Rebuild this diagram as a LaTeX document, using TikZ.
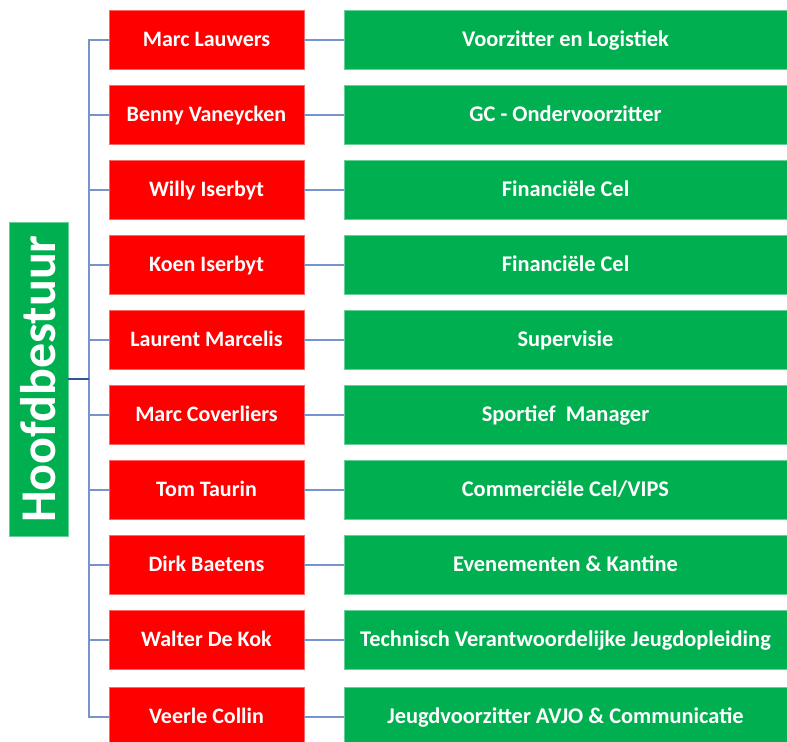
\documentclass[tikz,border=0pt]{standalone}
\usepackage{fontspec}
\setmainfont{Carlito}
\usepackage{tikz}
\usetikzlibrary{positioning}

\definecolor{boardred}{RGB}{255,0,0}
\definecolor{boardgreen}{RGB}{0,176,80}
\definecolor{linkblue}{RGB}{120,146,204}
\definecolor{hubblue}{RGB}{47,85,151}

\tikzset{
  member/.style={fill=boardred, draw=boardred!60!white, line width=0.4pt,
    minimum width=97.5pt, minimum height=29.5pt, inner sep=0pt,
    text height=8.4pt, text depth=1.6pt,
    text=white, font=\bfseries\fontsize{11}{13}\selectfont},
  duty/.style={fill=boardgreen, draw=boardgreen!60!white, line width=0.4pt,
    minimum width=221.5pt, minimum height=29.5pt, inner sep=0pt,
    text height=8.4pt, text depth=1.6pt,
    text=white, font=\bfseries\fontsize{11.2}{13}\selectfont},
  link/.style={draw=linkblue, line width=0.6pt}
}

\begin{document}
\begin{tikzpicture}
    [x=0.5pt, y=-0.5pt]
    \useasboundingbox (0, 0) rectangle (787, 742);

    % board title
    \node (board) [fill=boardgreen, draw=boardgreen!60!white, rotate=90,
      minimum width=157pt, minimum height=29.5pt, inner sep=0pt,
      text=white, font=\bfseries\fontsize{25}{30}\selectfont]
      at (38.5, 379) {Hoofdbestuur};
    \coordinate (spine) at (89, 379);

    % members
    \node (m1) [member] at (206.5, 40) {Marc Lauwers};
    \node (m2) [member] at (206.5, 115) {Benny Vaneycken};
    \node (m3) [member] at (206.5, 190) {Willy Iserbyt};
    \node (m4) [member] at (206.5, 265) {Koen Iserbyt};
    \node (m5) [member] at (206.5, 340) {Laurent Marcelis};
    \node (m6) [member] at (206.5, 415) {Marc Coverliers};
    \node (m7) [member] at (206.5, 490) {Tom Taurin};
    \node (m8) [member] at (206.5, 565) {Dirk Baetens};
    \node (m9) [member] at (206.5, 640) {Walter De Kok};
    \node (m10) [member] at (206.5, 717) {Veerle Collin};

    % duties
    \node (d1) [duty] at (565.5, 40) {Voorzitter en Logistiek};
    \node (d2) [duty] at (565.5, 115) {GC - Ondervoorzitter};
    \node (d3) [duty] at (565.5, 190) {Financiële Cel};
    \node (d4) [duty] at (565.5, 265) {Financiële Cel};
    \node (d5) [duty] at (565.5, 340) {Supervisie};
    \node (d6) [duty] at (565.5, 415) {Sportief~~Manager};
    \node (d7) [duty] at (565.5, 490) {Commerciële Cel/VIPS};
    \node (d8) [duty] at (565.5, 565) {Evenementen \& Kantine};
    \node (d9) [duty] at (565.5, 640) {Technisch Verantwoordelijke Jeugdopleiding};
    \node (d10) [duty] at (565.5, 717) {Jeugdvoorzitter AVJO \& Communicatie};

    % tree
    \draw [link] (spine) |- (m1.west);
    \draw [link] (spine) |- (m2.west);
    \draw [link] (spine) |- (m3.west);
    \draw [link] (spine) |- (m4.west);
    \draw [link] (spine) |- (m5.west);
    \draw [link] (spine) |- (m6.west);
    \draw [link] (spine) |- (m7.west);
    \draw [link] (spine) |- (m8.west);
    \draw [link] (spine) |- (m9.west);
    \draw [link] (spine) |- (m10.west);
    \draw [draw=hubblue, line width=1pt] (board.south) -- (spine);

    % member to duty
    \draw [link] (m1) -- (d1);
    \draw [link] (m2) -- (d2);
    \draw [link] (m3) -- (d3);
    \draw [link] (m4) -- (d4);
    \draw [link] (m5) -- (d5);
    \draw [link] (m6) -- (d6);
    \draw [link] (m7) -- (d7);
    \draw [link] (m8) -- (d8);
    \draw [link] (m9) -- (d9);
    \draw [link] (m10) -- (d10);
\end{tikzpicture}
\end{document}
